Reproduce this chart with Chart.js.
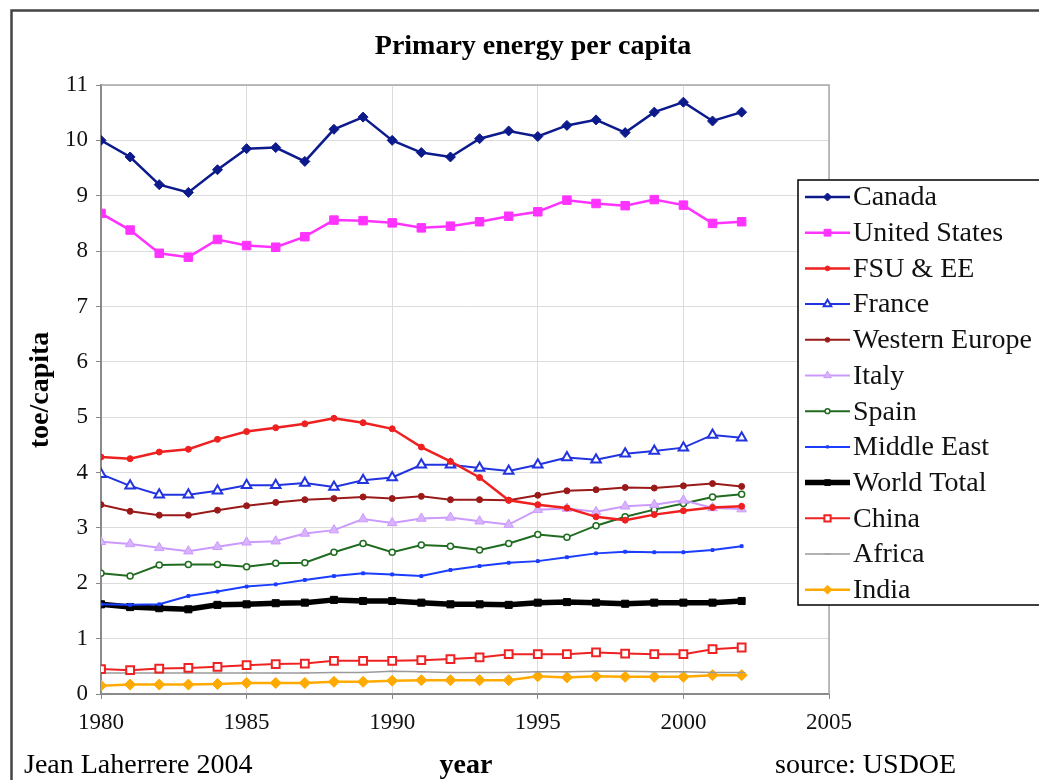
<!DOCTYPE html>
<html>
<head>
<meta charset="utf-8">
<script src="https://cdn.jsdelivr.net/npm/chart.js@4.4.0/dist/chart.umd.min.js"></script>
<style>
html,body{margin:0;padding:0;background:#fff;}
canvas{display:block;}
</style>
</head>
<body>
<canvas id="c" width="1039" height="780"></canvas>
<script>
const years = [1980,1981,1982,1983,1984,1985,1986,1987,1988,1989,1990,1991,1992,1993,1994,1995,1996,1997,1998,1999,2000,2001,2002];
const canada       = [10.0,9.7,9.2,9.06,9.47,9.85,9.87,9.62,10.2,10.42,10.0,9.78,9.70,10.03,10.17,10.07,10.27,10.37,10.14,10.51,10.69,10.35,10.51];
const unitedStates = [8.68,8.38,7.96,7.89,8.21,8.10,8.07,8.26,8.56,8.55,8.51,8.42,8.45,8.53,8.63,8.71,8.92,8.86,8.82,8.93,8.83,8.50,8.53];
const fsuEE        = [4.28,4.25,4.37,4.42,4.60,4.74,4.81,4.88,4.98,4.90,4.79,4.46,4.20,3.91,3.50,3.42,3.36,3.20,3.14,3.24,3.31,3.37,3.39];
const france       = [3.97,3.76,3.60,3.60,3.67,3.77,3.77,3.81,3.74,3.86,3.91,4.14,4.14,4.08,4.03,4.14,4.27,4.23,4.34,4.39,4.45,4.68,4.63];
const westernEurope= [3.42,3.30,3.23,3.23,3.32,3.40,3.46,3.51,3.53,3.56,3.53,3.57,3.51,3.51,3.50,3.59,3.67,3.69,3.73,3.72,3.76,3.80,3.75];
const italy        = [2.75,2.71,2.64,2.58,2.66,2.74,2.76,2.90,2.96,3.16,3.09,3.17,3.19,3.12,3.06,3.33,3.35,3.29,3.39,3.42,3.50,3.36,3.34];
const spain        = [2.18,2.13,2.33,2.34,2.34,2.30,2.36,2.37,2.56,2.72,2.56,2.69,2.67,2.60,2.72,2.88,2.83,3.04,3.20,3.33,3.44,3.56,3.61];
const middleEast   = [1.62,1.61,1.62,1.77,1.85,1.94,1.98,2.06,2.13,2.18,2.16,2.13,2.24,2.31,2.37,2.40,2.47,2.54,2.57,2.56,2.56,2.60,2.67];
const worldTotal   = [1.62,1.57,1.55,1.53,1.61,1.62,1.64,1.65,1.70,1.68,1.68,1.65,1.62,1.62,1.61,1.65,1.66,1.65,1.63,1.65,1.65,1.65,1.68];
const china        = [0.45,0.43,0.46,0.47,0.49,0.52,0.54,0.55,0.60,0.60,0.60,0.61,0.63,0.66,0.72,0.72,0.72,0.75,0.73,0.72,0.72,0.81,0.84];
const africa       = [0.38,0.38,0.38,0.38,0.38,0.38,0.38,0.38,0.39,0.39,0.41,0.40,0.39,0.39,0.39,0.40,0.40,0.41,0.41,0.40,0.40,0.39,0.39];
const india        = [0.15,0.17,0.17,0.17,0.18,0.20,0.20,0.20,0.22,0.22,0.24,0.25,0.25,0.25,0.25,0.32,0.30,0.32,0.31,0.31,0.31,0.34,0.34];
const seriesNames = ["Canada","United States","FSU & EE","France","Western Europe","Italy","Spain","Middle East","World Total","China","Africa","India"];
const xTicks = [1980,1985,1990,1995,2000,2005];
const yTicks = [0,1,2,3,4,5,6,7,8,9,10,11];

const SERIF = '"Liberation Serif","DejaVu Serif",serif';
const pts = arr => arr.map((v,i)=>({x:years[i], y:v}));

const styles = [
  {c:'#0c1a8c', w:2.5, ps:'rectRot', r:5, bg:'#0c1a8c'},
  {c:'#ff33ff', w:2.5, ps:'rect', r:6, bg:'#ff33ff'},
  {c:'#ee2020', w:2.5, ps:'circle', r:3, bg:'#ee2020'},
  {c:'#2233e0', w:2, ps:'triangle', r:5.5, bg:'#ffffff', bw:2},
  {c:'#9a1a1a', w:2, ps:'circle', r:3, bg:'#9a1a1a'},
  {c:'#cc99ff', w:2, ps:'triangle', r:5.5, bg:'#d8b4ff'},
  {c:'#1f6b1f', w:2, ps:'circle', r:3, bg:'#ffffff', bw:1.5},
  {c:'#1a3dff', w:2, ps:'rect', r:2, bg:'#1a3dff'},
  {c:'#000000', w:5.5, ps:'rect', r:5, bg:'#000000'},
  {c:'#ee2222', w:2, ps:'rect', r:5.5, bg:'#ffffff', bw:2},
  {c:'#9a9a9a', w:1.5, ps:'line', r:4, bg:'#9a9a9a'},
  {c:'#ffaa00', w:2.5, ps:'rectRot', r:5.5, bg:'#ffaa00'}
];
const values = [canada,unitedStates,fsuEE,france,westernEurope,italy,spain,middleEast,worldTotal,china,africa,india];

const datasets = values.map((arr,i)=>{
  const s = styles[i];
  return {
    label: seriesNames[i],
    data: pts(arr),
    borderColor: s.c,
    backgroundColor: s.bg,
    borderWidth: s.w,
    pointStyle: s.ps,
    pointRadius: s.r,
    pointBackgroundColor: s.bg,
    pointBorderColor: s.c,
    pointBorderWidth: s.bw || 1,
    tension: 0,
    fill: false
  };
});

const deco = {
  id: 'deco',
  beforeDraw(chart){
    const ctx = chart.ctx;
    ctx.save();
    ctx.fillStyle = '#fff';
    ctx.fillRect(0,0,chart.width,chart.height);
    ctx.strokeStyle = '#444';
    ctx.lineWidth = 2.5;
    ctx.beginPath();
    ctx.moveTo(11.5,780);
    ctx.lineTo(11.5,10.5);
    ctx.lineTo(1039,10.5);
    ctx.stroke();
    ctx.restore();
  },
  beforeDatasetsDraw(chart){
    const ctx = chart.ctx, a = chart.chartArea;
    ctx.save();
    ctx.strokeStyle = '#a8a8a8';
    ctx.lineWidth = 1.5;
    ctx.beginPath();
    ctx.moveTo(a.left, a.top); ctx.lineTo(a.right, a.top); ctx.lineTo(a.right, a.bottom);
    ctx.stroke();
    ctx.restore();
  },
  afterDraw(chart){
    const ctx = chart.ctx;
    ctx.save();
    ctx.fillStyle = '#000';
    ctx.textBaseline = 'middle';
    ctx.textAlign = 'center';
    ctx.font = 'bold 28px ' + SERIF;
    ctx.fillText('Primary energy per capita', 533, 47);
    ctx.font = 'bold 28px ' + SERIF;
    ctx.fillText('year', 466, 766);
    ctx.textAlign = 'left';
    ctx.font = '28px ' + SERIF;
    ctx.fillText('Jean Laherrere 2004', 24, 766);
    ctx.fillText('source: USDOE', 775, 766);
    ctx.save();
    ctx.translate(41, 390);
    ctx.rotate(-Math.PI/2);
    ctx.textAlign = 'center';
    ctx.font = 'bold 28px ' + SERIF;
    ctx.fillText('toe/capita', 0, 0);
    ctx.restore();

    // legend
    const lx = 798, ly = 180, lw = 250, lh = 425;
    ctx.fillStyle = '#fff';
    ctx.fillRect(lx, ly, lw, lh);
    ctx.strokeStyle = '#000';
    ctx.lineWidth = 1.5;
    ctx.strokeRect(lx, ly, lw, lh);
    ctx.font = '28px ' + SERIF;
    ctx.textAlign = 'left';
    chart.data.datasets.forEach((ds,i)=>{
      const y = 197 + i*35.7;
      ctx.strokeStyle = ds.borderColor;
      ctx.lineWidth = ds.borderWidth;
      ctx.beginPath();
      ctx.moveTo(805, y); ctx.lineTo(850, y);
      ctx.stroke();
      ctx.fillStyle = ds.pointBackgroundColor;
      ctx.strokeStyle = ds.pointBorderColor;
      ctx.lineWidth = ds.pointBorderWidth;
      Chart.helpers.drawPoint(ctx, {pointStyle: ds.pointStyle, radius: ds.pointRadius*0.8, rotation: 0, borderWidth: ds.pointBorderWidth}, 827.5, y);
      ctx.fillStyle = '#111';
      ctx.fillText(ds.label, 853, y+1);
    });
    ctx.restore();
  }
};

new Chart(document.getElementById('c'), {
  type: 'line',
  data: { datasets },
  options: {
    responsive: false,
    devicePixelRatio: 1,
    animation: false,
    events: [],
    layout: { padding: { top: 85, right: 210, left: 0, bottom: 0 } },
    plugins: { legend: { display: false }, tooltip: { enabled: false }, title: { display: false } },
    scales: {
      x: {
        type: 'linear',
        min: 1980, max: 2005,
        afterBuildTicks: s => { s.ticks = xTicks.map(v=>({value:v})); },
        afterFit: s => { s.height = 86; },
        ticks: { font: { family: SERIF, size: 23 }, color: '#111', padding: 10, maxRotation: 0, callback: v => String(v) },
        grid: { color: '#dcdcdc', lineWidth: 1, tickLength: 5, tickColor: '#888' },
        border: { color: '#8a8a8a', width: 2 }
      },
      y: {
        min: 0, max: 11,
        afterBuildTicks: s => { s.ticks = yTicks.map(v=>({value:v})); },
        afterFit: s => { s.width = 101; },
        ticks: { font: { family: SERIF, size: 23 }, color: '#111', padding: 8 },
        grid: { color: '#dcdcdc', lineWidth: 1, tickLength: 5, tickColor: '#888' },
        border: { color: '#8a8a8a', width: 2 }
      }
    }
  },
  plugins: [deco]
});
</script>
</body>
</html>
